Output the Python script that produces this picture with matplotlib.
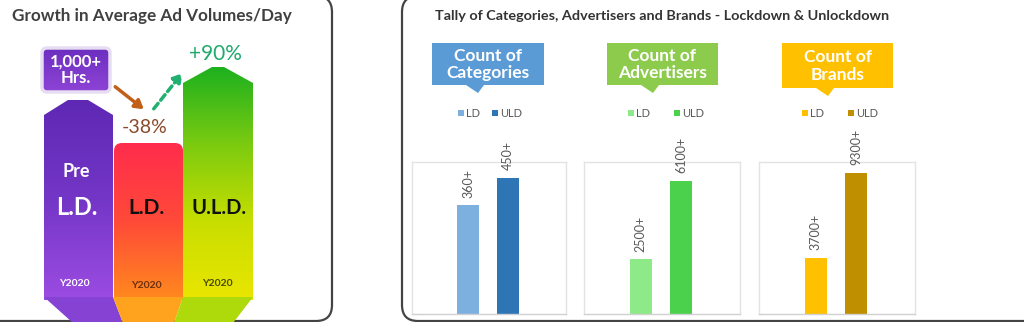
import numpy as np
import matplotlib
matplotlib.use("Agg")
import matplotlib.pyplot as plt
import matplotlib.patches as patches
from matplotlib.colors import LinearSegmentedColormap

plt.rcParams['font.family'] = ['Lato', 'DejaVu Sans']

# ---- data ----
growth_labels = ["Pre\nL.D.", "L.D.", "U.L.D."]
growth_years = ["Y2020", "Y2020", "Y2020"]
growth_changes = ["-38%", "+90%"]
highlight_label = "1,000+\nHrs."

panel_titles = ["Count of\nCategories", "Count of\nAdvertisers", "Count of\nBrands"]
series_names = ["LD", "ULD"]
ld_counts = [360, 2500, 3700]
uld_counts = [450, 6100, 9300]
count_suffix = "+"

W, H = 1024, 322
fig = plt.figure(figsize=(W / 100, H / 100), dpi=100)
fig.patch.set_facecolor("white")

# overlay axes in pixel coordinates (y down)
bg = fig.add_axes([0, 0, 1, 1])
bg.set_xlim(0, W)
bg.set_ylim(H, 0)
bg.axis('off')


def fig_rect(x0, y0, x1, y1):
    return [x0 / W, 1 - y1 / H, (x1 - x0) / W, (y1 - y0) / H]


def grad_fill(patch, x0, x1, ytop, ybot, colors, z=3):
    bg.add_patch(patch)
    cmap = LinearSegmentedColormap.from_list("g", colors)
    im = bg.imshow(np.linspace(0, 1, 256).reshape(-1, 1), cmap=cmap,
                   extent=[x0, x1, ybot, ytop], origin='upper',
                   aspect='auto', zorder=z, interpolation='bilinear')
    im.set_clip_path(patch)


# panel frames
bg.add_patch(patches.FancyBboxPatch((-30, -4), 362, 325,
                                    boxstyle="round,pad=0,rounding_size=16",
                                    fc="white", ec="#444444", lw=1.6, zorder=1))
bg.add_patch(patches.FancyBboxPatch((402, -4), 660, 325,
                                    boxstyle="round,pad=0,rounding_size=16",
                                    fc="white", ec="#444444", lw=1.6, zorder=1))

# ---- left: growth infographic ----
bg.text(152, 16, "Growth in Average Ad Volumes/Day", ha="center", va="center",
        fontsize=12.3, fontweight="bold", color="#404040", zorder=5)

purple = patches.Polygon([(44, 300), (44, 115), (68, 100), (88, 100), (113, 115), (113, 300)],
                         closed=True, fc="none", ec="none")
grad_fill(purple, 44, 113, 100, 300, ["#5E28B4", "#7436C6", "#9C4CE2"])

red = patches.FancyBboxPatch((114, 143), 69, 165, boxstyle="round,pad=0,rounding_size=8",
                             fc="none", ec="none")
grad_fill(red, 114, 183, 143, 300, ["#FF2C4C", "#FF4A38", "#FF8A1E"])

green = patches.Polygon([(183, 300), (183, 83), (212, 67), (224, 67), (253, 83), (253, 300)],
                        closed=True, fc="none", ec="none")
grad_fill(green, 183, 253, 67, 300, ["#1DB01F", "#7CCB10", "#C8DE00", "#EAE600"])

# bottom flaps
bg.add_patch(patches.Polygon([(44, 297), (113, 297), (123, 323), (73, 323)],
                             fc="#8642D2", ec="none", zorder=4))
bg.add_patch(patches.Polygon([(113, 297), (183, 297), (174, 323), (123, 323)],
                             fc="#FFA21E", ec="none", zorder=4))
bg.add_patch(patches.Polygon([(183, 297), (253, 297), (233, 323), (174, 323)],
                             fc="#AEDA0C", ec="none", zorder=4))

# column labels
pre, ld = growth_labels[0].split("\n")
bg.text(76, 171, pre, ha="center", va="center", fontsize=13, fontweight="bold",
        color="white", zorder=6)
bg.text(77, 207, ld, ha="center", va="center", fontsize=17, fontweight="bold",
        color="white", zorder=6)
bg.text(147, 208, growth_labels[1], ha="center", va="center", fontsize=15,
        fontweight="bold", color="#111111", zorder=6)
bg.text(219, 208, growth_labels[2], ha="center", va="center", fontsize=14.5,
        fontweight="bold", color="#111111", zorder=6)
year_cols = ["white", "#6B3010", "#4A4A00"]
for xc, yc, lab, c in zip([74, 146, 217], [284, 285, 283], growth_years, year_cols):
    bg.text(xc, yc, lab, ha="center", va="center", fontsize=7.5,
            fontweight="bold", color=c, zorder=6)

# 1,000+ Hrs box
hrs = patches.FancyBboxPatch((42, 48), 68, 44, boxstyle="round,pad=0,rounding_size=5",
                             fc="none", ec="none", zorder=6)
grad_fill(hrs, 42, 110, 48, 92, ["#6C2EC0", "#8E44D6"], z=6)
bg.add_patch(patches.FancyBboxPatch((42, 48), 68, 44, boxstyle="round,pad=0,rounding_size=5",
                                    fc="none", ec="#E6DDF2", lw=2.5, zorder=7))
bg.text(76, 70, highlight_label, ha="center", va="center", fontsize=12,
        fontweight="bold", color="white", linespacing=1.0, zorder=8)

# change arrows
bg.annotate("", xy=(146, 111), xytext=(113, 85),
            arrowprops=dict(arrowstyle="-|>,head_length=0.5,head_width=0.3",
                            color="#C0601A", lw=2.5), zorder=6)
bg.annotate("", xy=(184, 71), xytext=(152, 111),
            arrowprops=dict(arrowstyle="-|>,head_length=0.5,head_width=0.3",
                            color="#22B070", lw=2.5, linestyle=(0, (2, 1.2))), zorder=6)
bg.text(145, 127, growth_changes[0], ha="center", va="center", fontsize=14,
        color="#8A4A2A", zorder=6)
bg.text(215, 54, growth_changes[1], ha="center", va="center", fontsize=15,
        color="#1FAA6C", zorder=6)

# ---- right: tally bar charts ----
bg.text(662, 16, "Tally of Categories, Advertisers and Brands - Lockdown & Unlockdown",
        ha="center", va="center", fontsize=10.4, fontweight="bold", color="#333333", zorder=5)

callout_boxes = [(432, 544, 85), (607, 718, 85), (782, 893, 88)]
callout_colors = ["#5B9BD5", "#8CCB4B", "#FFC000"]
bar_colors = [("#7EB0DF", "#2E75B6"), ("#8EEA88", "#4CD14C"), ("#FFC000", "#BF8F00")]
panel_x = [(412, 566), (584, 740), (759, 915)]
legend_x = [458, 628, 802]
y_max = [503, 6960, 10030]

for i in range(3):
    x0, x1, yb = callout_boxes[i]
    tx = x0 + 34
    bg.add_patch(patches.Polygon([(x0, 43), (x1, 43), (x1, yb), (tx + 18, yb), (tx + 12, yb + 8),
                                  (tx, yb), (x0, yb)], fc=callout_colors[i], ec="none", zorder=3))
    bg.text((x0 + x1) / 2, (43 + yb) / 2 + 0.5, panel_titles[i], ha="center", va="center",
            fontsize=12.5, fontweight="bold", color="white", linespacing=1.15, zorder=4)

    # legend
    lx = legend_x[i]
    for j, name in enumerate(series_names):
        sx = lx + j * 34 if i == 0 else lx + j * 46
        bg.add_patch(patches.Rectangle((sx, 110), 6, 6, fc=bar_colors[i][j], ec="none", zorder=3))
        bg.text(sx + 8, 113.5, name, ha="left", va="center", fontsize=8,
                color="#595959", zorder=3)

    # bar chart
    px0, px1 = panel_x[i]
    ax = fig.add_axes(fig_rect(px0, 162, px1, 314))
    vals = [ld_counts[i], uld_counts[i]]
    bars = ax.bar([0, 1], vals, width=0.55, color=bar_colors[i])
    for b, v in zip(bars, vals):
        ax.text(b.get_x() + b.get_width() / 2, v + y_max[i] * 0.05, f"{v}{count_suffix}",
                rotation=90, ha="center", va="bottom", fontsize=9, color="#595959",
                clip_on=False)
    ax.set_xlim(-1.405, 2.455)
    ax.set_ylim(0, y_max[i])
    ax.set_xticks([])
    ax.set_yticks([])
    for s in ax.spines.values():
        s.set_color("#E3E3E3")
        s.set_linewidth(1.0)
    ax.spines['bottom'].set_color("#D0D0D0")
    ax.patch.set_alpha(0)

fig.savefig("out.png", dpi=100, facecolor="white")
